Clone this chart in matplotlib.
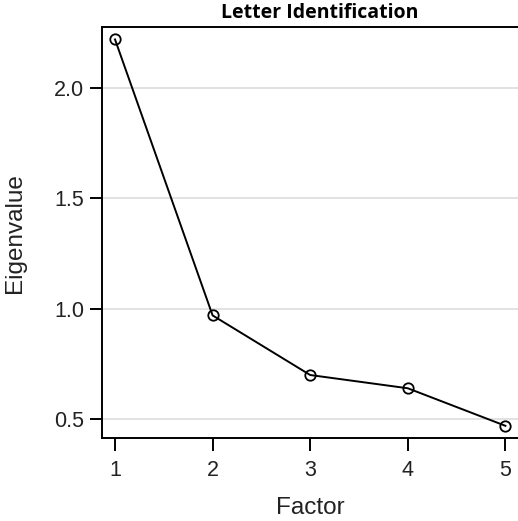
import matplotlib
matplotlib.use('Agg')
from matplotlib import pyplot as plt

factors = [1, 2, 3, 4, 5]
eigenvalues = [2.22, 0.97, 0.70, 0.64, 0.47]
y_ticks = [0.5, 1.0, 1.5, 2.0]

fig = plt.figure(dpi=100, figsize=(5.18, 5.21))
ax = fig.add_axes([0.197, 0.159, 0.805, 0.789])

for y in y_ticks:
    ax.axhline(y, color='#dddddd', lw=1.2, zorder=0)

ax.plot(factors, eigenvalues, c='black', lw=1.4, marker='o', ms=7.5,
        mfc='none', mec='black', mew=1.3, zorder=3)

ax.set_xlim(0.867, 5.14)
ax.set_ylim(0.414, 2.276)
ax.set_xticks(factors)
ax.set_yticks(y_ticks)
ax.set_yticklabels(['0.5', '1.0', '1.5', '2.0'])

for s in ax.spines.values():
    s.set_linewidth(1.4)
ax.tick_params(axis='both', which='major', labelsize=15.5, length=9, width=1.4,
               labelcolor='#222222')
ax.tick_params(axis='x', pad=7)
ax.tick_params(axis='y', pad=4)
for lab in ax.get_xticklabels() + ax.get_yticklabels():
    lab.set_family('Liberation Sans')

ax.set_xlabel('Factor', fontsize=17.5, family='Liberation Sans', labelpad=11,
              color='#222222')
ax.set_ylabel('Eigenvalue', fontsize=17.5, family='Liberation Sans', labelpad=20,
              color='#222222')
fig.text(0.617, 0.975, 'Letter Identification', fontsize=14, fontweight='bold',
         family='Open Sans', ha='center', va='center')

fig.savefig('out.png', dpi=100)
